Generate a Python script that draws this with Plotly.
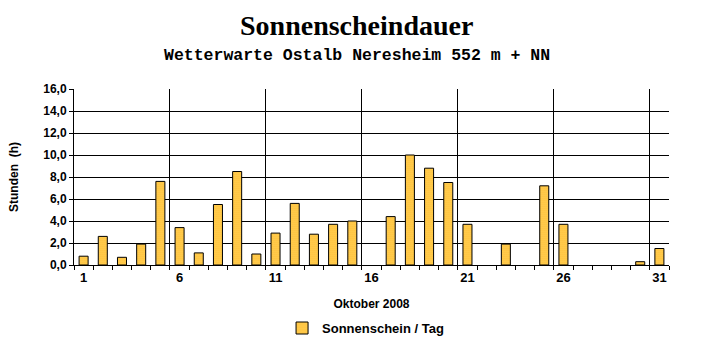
import plotly.graph_objects as go

days = list(range(1, 32))
sunshine = [0.8, 2.6, 0.7, 1.9, 7.6, 3.4, 1.1, 5.5, 8.5, 1.0,
            2.9, 5.6, 2.8, 3.7, 4.0, 0.0, 4.4, 10.0, 8.8, 7.5,
            3.7, 0.0, 1.9, 0.0, 7.2, 3.7, 0.0, 0.0, 0.0, 0.3, 1.5]
x_labels = [1, 6, 11, 16, 21, 26, 31]
y_ticks = [0, 2, 4, 6, 8, 10, 12, 14, 16]

title = "Sonnenscheindauer"
subtitle = "Wetterwarte Ostalb Neresheim 552 m + NN"
series_name = "Sonnenschein / Tag"

sans = "Liberation Sans, Arial, sans-serif"

outline_w = [1 if v > 0 else 0 for v in sunshine]

fig = go.Figure()
fig.add_trace(go.Bar(
    x=days, y=sunshine, name=series_name, width=0.47,
    marker=dict(color="#FFC040", line=dict(color="black", width=outline_w),
                pattern=dict(shape=".", fgcolor="#FF9900", bgcolor="#FFD860",
                             size=2, solidity=0.6)),
    showlegend=True,
))
# helper trace to drive vertical grid axis
fig.add_trace(go.Scatter(x=[0.5, 31.5], y=[0, 0], xaxis="x2", mode="none",
                         showlegend=False, hoverinfo="skip"))

fig.update_layout(
    width=715, height=352,
    margin=dict(l=74, r=46, t=89, b=87, autoexpand=False),
    paper_bgcolor="white", plot_bgcolor="white",
    separators=",.",
    showlegend=True,
    legend=dict(orientation="h", x=0.49, xanchor="center",
                yref="container", y=0.068, yanchor="middle",
                font=dict(family=sans, size=13, color="black", weight="bold")),
    xaxis=dict(range=[0.5, 31.5], tickvals=x_labels, ticktext=[str(v) for v in x_labels],
               showgrid=False, zeroline=False, showline=True, linecolor="black", linewidth=1,
               ticks="", tickfont=dict(family=sans, size=13, color="black", weight="bold"),
               minor=dict(ticks="outside", tick0=0.5, dtick=1, ticklen=4, tickcolor="black",
                          showgrid=False),
               title=dict(text="Oktober 2008", standoff=16,
                          font=dict(family=sans, size=12, color="black", weight="bold"))),
    xaxis2=dict(range=[0.5, 31.5], overlaying="x", tick0=5.5, dtick=5, showgrid=True,
                gridcolor="black", gridwidth=1, showticklabels=False, ticks="",
                zeroline=False, showline=False, side="bottom"),
    yaxis=dict(range=[0, 16], tickvals=y_ticks, tickformat=".1f", showgrid=True,
               gridcolor="black", gridwidth=1, zeroline=False, showline=True,
               linecolor="black", linewidth=1, ticks="outside", ticklen=4, tickcolor="black",
               tickfont=dict(family=sans, size=12, color="black", weight="bold"),
               title=dict(text="Stunden  (h)", standoff=22,
                          font=dict(family=sans, size=12, color="black", weight="bold"))),
    bargap=0.5,
)

fig.add_annotation(text=title, xref="paper", yref="paper", x=0.4756, y=1.0,
                   yshift=64, showarrow=False, xanchor="center", yanchor="middle",
                   font=dict(family="Liberation Serif, Times New Roman, serif", size=28,
                             color="black", weight="bold"))
fig.add_annotation(text=subtitle, xref="paper", yref="paper", x=0.4756, y=1.0,
                   yshift=34, showarrow=False, xanchor="center", yanchor="middle",
                   font=dict(family="Liberation Mono, Courier New, monospace", size=16.5,
                             color="black", weight="bold"))

fig.write_html("out.html")
